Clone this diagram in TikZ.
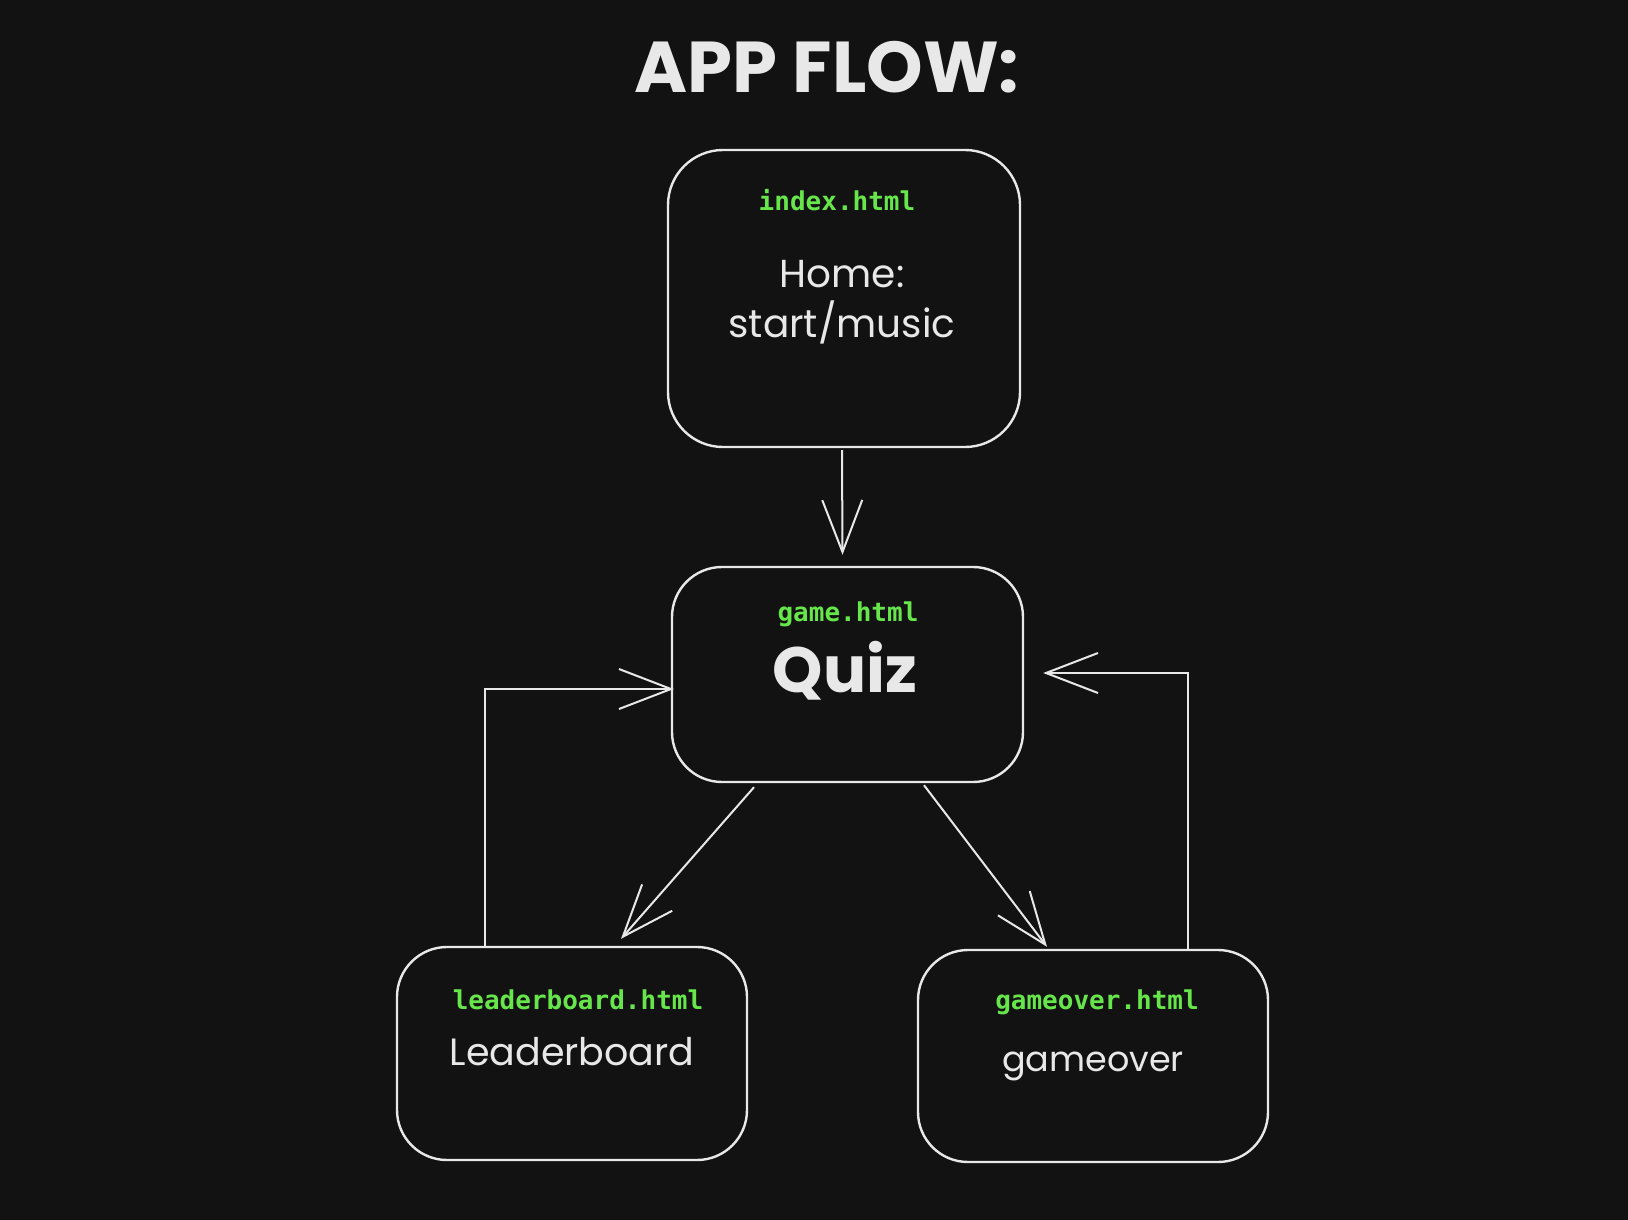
\documentclass[tikz,border=0pt]{standalone}
\usepackage{fontspec}
\usetikzlibrary{arrows.meta}
\newfontfamily\handfont{Poppins}
\newfontfamily\monofont{DejaVu Sans Mono Bold}
\definecolor{bgc}{HTML}{121212}
\definecolor{ink}{HTML}{E8E8E8}
\definecolor{codegreen}{HTML}{66E64A}
\tikzset{
  pagebox/.style={draw=ink, line width=2.4pt, fill=bgc, rounded corners=55pt, inner sep=0pt},
  fname/.style={text=codegreen, font=\monofont\fontsize{26}{30}\selectfont, anchor=base},
  handtxt/.style={text=ink, anchor=base},
  flow/.style={draw=ink, line width=2pt, -{Straight Barb[length=52pt,width=40pt,line width=2pt]}},
}
\begin{document}
\begin{tikzpicture}[x=1pt,y=-1pt]
\fill[bgc] (0,0) rectangle (1628,1220);
\useasboundingbox (0,0) rectangle (1628,1220);

\node[handtxt, font=\handfont\bfseries\fontsize{72}{80}\selectfont] (title) at (827,93) {APP FLOW:};

\node[pagebox, minimum width=352pt, minimum height=297pt] (index) at (844,298.5) {};
\node[pagebox, minimum width=351pt, minimum height=215pt, rounded corners=50pt] (game) at (847.5,674.5) {};
\node[pagebox, minimum width=350pt, minimum height=213pt, rounded corners=50pt] (lb) at (572,1053.5) {};
\node[pagebox, minimum width=350pt, minimum height=212pt, rounded corners=50pt] (go) at (1093,1056) {};

\node[fname] (indexf) at (837,210) {index.html};
\node[handtxt, font=\handfont\fontsize{39}{50}\selectfont, align=center, anchor=center] (home) at (842,302) {Home:\\start/music};

\node[fname] (gamef) at (848,621) {game.html};
\node[handtxt, font=\handfont\bfseries\fontsize{64}{70}\selectfont] (quiz) at (845,692) {Quiz};

\node[fname] (lbf) at (578,1009) {leaderboard.html};
\node[handtxt, font=\handfont\fontsize{38}{44}\selectfont] (lbt) at (572,1065) {Leaderboard};

\node[fname] (gof) at (1097,1009) {gameover.html};
\node[handtxt, font=\handfont\fontsize{35}{44}\selectfont] (got) at (1093,1071) {gameover};

\draw[flow] ([xshift=-2pt,yshift=-2pt]index.south) -- ([xshift=-5pt,yshift=11pt]game.north);
\draw[flow] ([xshift=-93.5pt,yshift=-4pt]game.south) -- ([xshift=49pt,yshift=7pt]lb.north);
\draw[flow] ([xshift=76.5pt,yshift=-2pt]game.south) -- ([xshift=-46pt,yshift=2pt]go.north);
\draw[flow] ([xshift=-87pt]lb.north) |- ([xshift=3pt,yshift=-14.5pt]game.west);
\draw[flow] ([xshift=95pt]go.north) |- ([xshift=19pt,yshift=1.5pt]game.east);
\end{tikzpicture}
\end{document}
